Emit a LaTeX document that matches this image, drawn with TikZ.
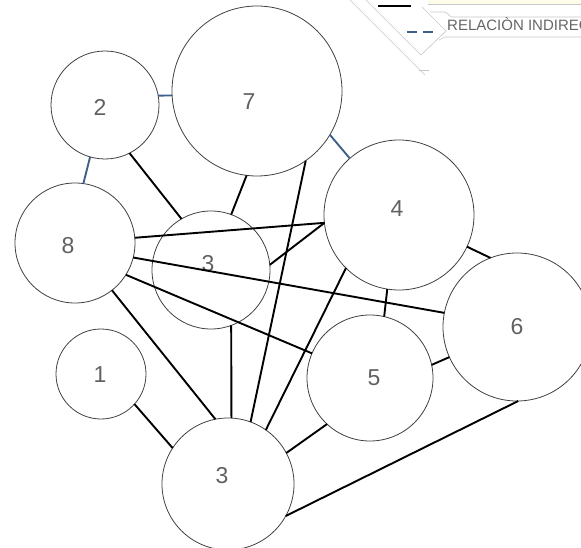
\documentclass[tikz,border=0pt]{standalone}
\usepackage{fontspec}
\setmainfont{Liberation Sans}
\definecolor{indblue}{RGB}{62,96,138}
\definecolor{legyellow}{RGB}{252,252,232}
\begin{document}
\begin{tikzpicture}[x=1pt,y=-1pt,
  ent/.style={circle,draw=black!75,line width=0.8pt,inner sep=0pt,outer sep=0pt},
  num/.style={inner sep=0pt,font=\fontsize{23}{23}\selectfont,text=black!62},
  rel/.style={line width=1.9pt,black},
  ind/.style={line width=1.9pt,indblue},
  legline/.style={line width=0.6pt,black!22}]
\useasboundingbox (0,0) rectangle (581,548);
\clip (0,0) rectangle (581,548);

% legend fragment (top right)
\fill[legyellow] (428,0) rectangle (581,4);
\draw[legline] (428,4) -- (581,4);
\draw[legline] (350,0) -- (425,75);
\draw[legline] (419,70) -- (429,70);
\draw[legline] (366,0) -- (396,30) -- (421,55) -- (446,31) -- (422,7);
\draw[legline] (430,12) -- (444,12) .. controls (448,12) and (448,16) .. (452,17) -- (581,17);
\draw[legline] (439,40) -- (445,37) -- (581,37);
\draw[line width=2.6pt,black] (378,6) -- (411,6);
\draw[line width=2.2pt,indblue,dash pattern=on 10pt off 6pt] (407,32) -- (436,32);
\node[anchor=base west,inner sep=0pt,font=\fontsize{15}{15}\selectfont,text=black!60]
  (legtext) at (447,31) {RELACIÒN INDIREC};

% entities
\node[ent,minimum size=108pt] (c2) at (105,105) {};
\node[ent,minimum size=170pt] (c7) at (257,91) {};
\node[ent,minimum size=120pt] (c8) at (75,243) {};
\node[ent,minimum size=118pt] (m3) at (211,270) {};
\node[ent,minimum size=150pt] (c4) at (399,215) {};
\node[ent,minimum size=148pt] (c6) at (517,327) {};
\node[ent,minimum size=126pt] (c5) at (370,378) {};
\node[ent,minimum size=132pt] (b3) at (228,484) {};
\node[ent,minimum size=90pt] (c1) at (101,374) {};

% labels
\node[num] (l2) at (100,107) {2};
\node[num] (l7) at (249,102) {7};
\node[num] (l8) at (68,246) {8};
\node[num] (lm3) at (208,264) {3};
\node[num] (l4) at (397,209) {4};
\node[num] (l6) at (517,327) {6};
\node[num] (l5) at (374,378) {5};
\node[num] (lb3) at (222,476) {3};
\node[num] (l1) at (100,375) {1};

% indirect relations
\draw[ind] (c2.10) -- (c7.183);
\draw[ind] (c2.254) -- (c8.82);
\draw[ind] (c7.329) -- (c4.131);

% direct relations
\draw[rel] (c2.297) -- (m3.120);
\draw[rel] (c7.263) -- (m3.70);
\draw[rel] (c7.305) -- (b3.70);
\draw[rel] (c8.308) -- (b3.101);
\draw[rel] (m3.290) -- (b3.87);
\draw[rel] (c4.225) -- (b3.55);
\draw[rel] (c8.5) -- (c4.186);
\draw[rel] (m3.5) -- (c4.186);
\draw[rel] (c8.346) -- (c6.169);
\draw[rel] (c8.328) -- (c5.157);
\draw[rel] (c4.335) -- (c6.111);
\draw[rel] (c4.261) -- (c5.77);
\draw[rel] (c5.12) -- (c6.204);
\draw[rel] (c5.227) -- (b3.28);
\draw[rel] (c6.271) -- (b3.331);
\draw[rel] (c1.318) -- (b3.147);
\end{tikzpicture}
\end{document}
